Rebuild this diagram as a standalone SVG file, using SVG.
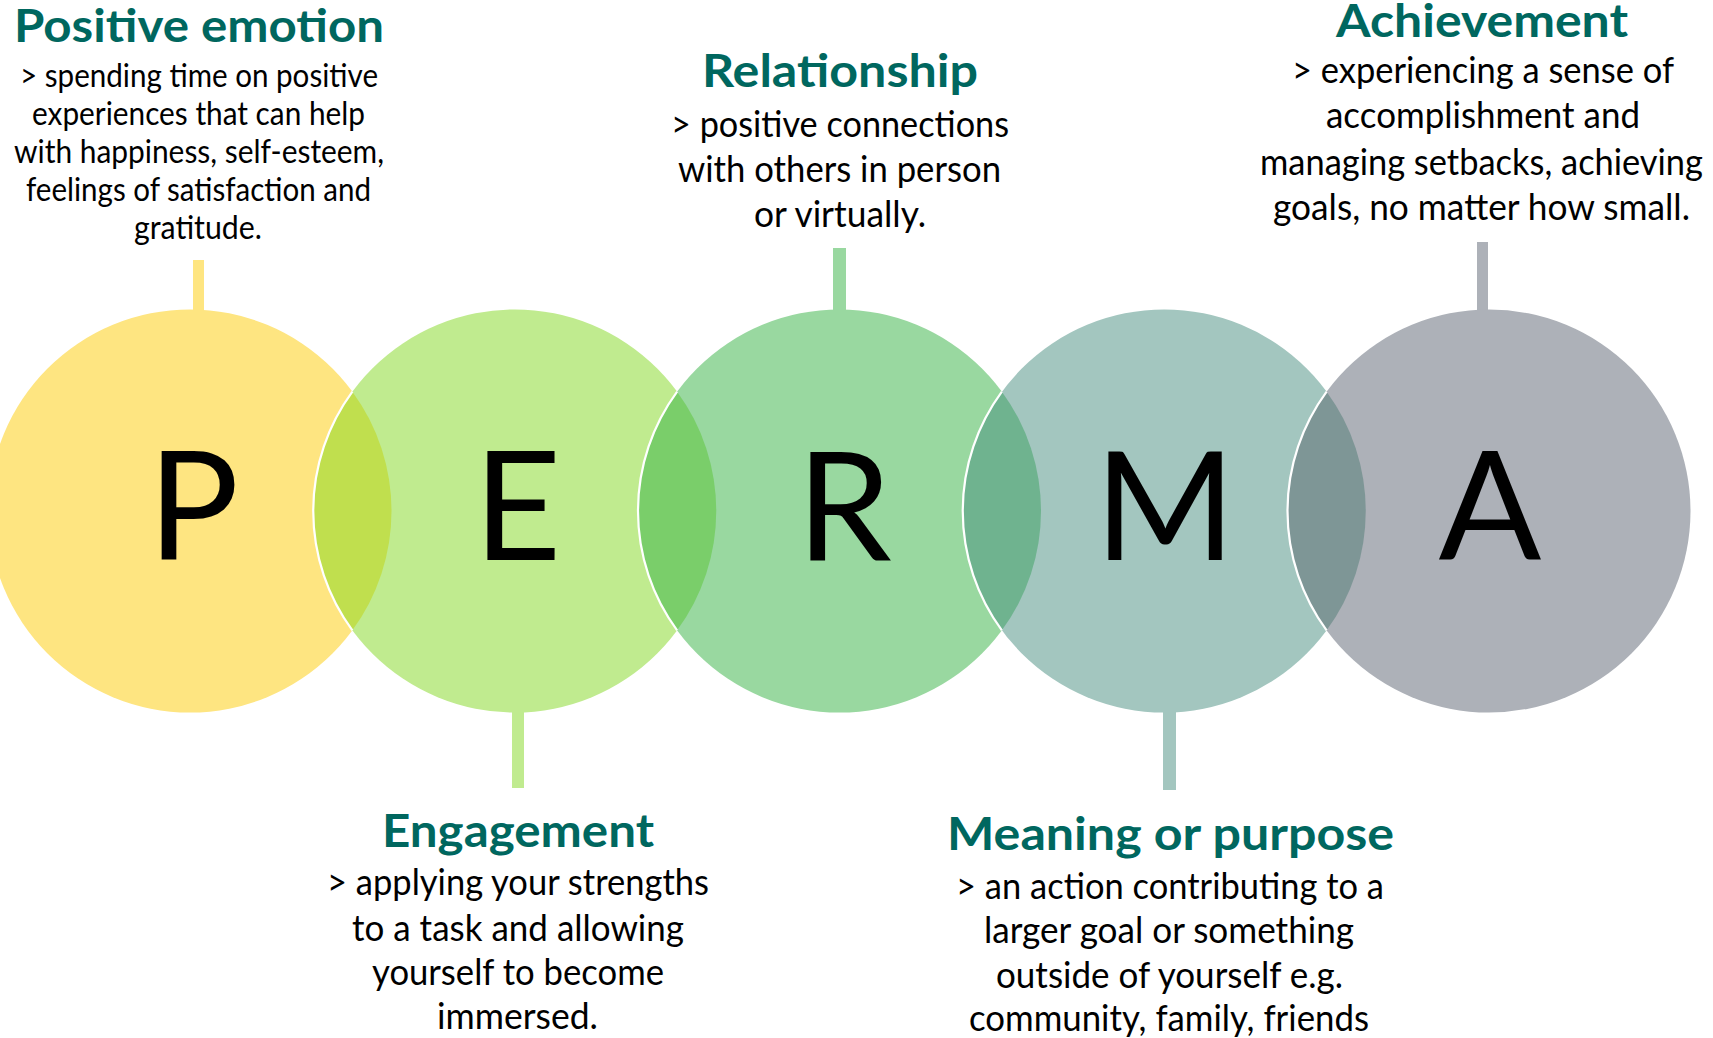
<svg xmlns="http://www.w3.org/2000/svg" width="1713" height="1038" viewBox="0 0 1713 1038">
<style>
.h{font-family:Lato,"Open Sans","Liberation Sans",sans-serif;font-weight:700;font-size:45px;fill:#00675F;text-anchor:middle}
.b{font-family:Lato,"Open Sans","Liberation Sans",sans-serif;font-size:37px;fill:#000;text-anchor:middle}
.bs{font-size:32px}
.L{font-family:Lato,"Open Sans","Liberation Sans",sans-serif;font-size:152px;fill:#000;text-anchor:middle}
.arc{fill:none;stroke:#fff;stroke-width:2.2}
</style>
<rect width="1713" height="1038" fill="#fff"/>
<g id="connectors">
<rect x="193" y="260" width="11" height="60" fill="#FEE581"/>
<rect x="512" y="700" width="12" height="88" fill="#C0EB8F"/>
<rect x="833" y="248" width="13" height="72" fill="#99D8A0"/>
<rect x="1163" y="700" width="13" height="90" fill="#A3C6BF"/>
<rect x="1477" y="242" width="11" height="78" fill="#ADB1B8"/>
</g>
<g id="node-P">
<circle cx="190" cy="511" r="201.5" fill="#FEE581"/>
<text class="L" x="193.5" y="560">P</text>
<text class="h" x="199" y="42" textLength="370" lengthAdjust="spacingAndGlyphs">Positive emotion</text>
<text class="b bs" x="199" y="87" textLength="358" lengthAdjust="spacingAndGlyphs">&gt; spending time on positive</text>
<text class="b bs" x="198.5" y="125" textLength="333" lengthAdjust="spacingAndGlyphs">experiences that can help</text>
<text class="b bs" x="199" y="163" textLength="370" lengthAdjust="spacingAndGlyphs">with happiness, self-esteem,</text>
<text class="b bs" x="198.5" y="201" textLength="345" lengthAdjust="spacingAndGlyphs">feelings of satisfaction and</text>
<text class="b bs" x="198" y="239" textLength="128" lengthAdjust="spacingAndGlyphs">gratitude.</text>
</g>
<g id="node-E">
<circle cx="514.75" cy="511" r="201.5" fill="#C0EB8F"/>
<text class="L" x="517.5" y="560">E</text>
<text class="h" x="518" y="847" textLength="272" lengthAdjust="spacingAndGlyphs">Engagement</text>
<text class="b" x="518" y="895" textLength="382" lengthAdjust="spacingAndGlyphs">&gt; applying your strengths</text>
<text class="b" x="518" y="941" textLength="332" lengthAdjust="spacingAndGlyphs">to a task and allowing</text>
<text class="b" x="518" y="985" textLength="292" lengthAdjust="spacingAndGlyphs">yourself to become</text>
<text class="b" x="517.5" y="1029" textLength="161" lengthAdjust="spacingAndGlyphs">immersed.</text>
</g>
<g id="node-R">
<circle cx="839.5" cy="511" r="201.5" fill="#99D8A0"/>
<text class="L" x="844" y="560">R</text>
<text class="h" x="840" y="87" textLength="276" lengthAdjust="spacingAndGlyphs">Relationship</text>
<text class="b" x="840" y="137" textLength="338" lengthAdjust="spacingAndGlyphs">&gt; positive connections</text>
<text class="b" x="839.5" y="182" textLength="323" lengthAdjust="spacingAndGlyphs">with others in person</text>
<text class="b" x="840" y="227" textLength="172" lengthAdjust="spacingAndGlyphs">or virtually.</text>
</g>
<g id="node-M">
<circle cx="1164.25" cy="511" r="201.5" fill="#A3C6BF"/>
<text class="L" x="1165" y="560">M</text>
<text class="h" x="1170.5" y="850" textLength="447" lengthAdjust="spacingAndGlyphs">Meaning or purpose</text>
<text class="b" x="1170" y="899" textLength="428" lengthAdjust="spacingAndGlyphs">&gt; an action contributing to a</text>
<text class="b" x="1169" y="943" textLength="370" lengthAdjust="spacingAndGlyphs">larger goal or something</text>
<text class="b" x="1169.5" y="988" textLength="347" lengthAdjust="spacingAndGlyphs">outside of yourself e.g.</text>
<text class="b" x="1169" y="1031" textLength="400" lengthAdjust="spacingAndGlyphs">community, family, friends</text>
</g>
<g id="node-A">
<circle cx="1489" cy="511" r="201.5" fill="#ADB1B8"/>
<text class="L" x="1490" y="560">A</text>
<text class="h" x="1482" y="37" textLength="292" lengthAdjust="spacingAndGlyphs">Achievement</text>
<text class="b" x="1483" y="83" textLength="382" lengthAdjust="spacingAndGlyphs">&gt; experiencing a sense of</text>
<text class="b" x="1483" y="128" textLength="314" lengthAdjust="spacingAndGlyphs">accomplishment and</text>
<text class="b" x="1481.5" y="175" textLength="443" lengthAdjust="spacingAndGlyphs">managing setbacks, achieving</text>
<text class="b" x="1481.5" y="220" textLength="417" lengthAdjust="spacingAndGlyphs">goals, no matter how small.</text>
</g>
<g id="overlaps">
<path d="M352.375 391.68 A201.5 201.5 0 0 1 352.375 630.32 A201.5 201.5 0 0 1 352.375 391.68Z" fill="#C0DF4E"/>
<path d="M677.125 391.68 A201.5 201.5 0 0 1 677.125 630.32 A201.5 201.5 0 0 1 677.125 391.68Z" fill="#7ACE6A"/>
<path d="M1001.875 391.68 A201.5 201.5 0 0 1 1001.875 630.32 A201.5 201.5 0 0 1 1001.875 391.68Z" fill="#6FB38F"/>
<path d="M1326.625 391.68 A201.5 201.5 0 0 1 1326.625 630.32 A201.5 201.5 0 0 1 1326.625 391.68Z" fill="#7E9696"/>
<path class="arc" d="M352.375 630.32 A201.5 201.5 0 0 1 352.375 391.68"/>
<path class="arc" d="M677.125 630.32 A201.5 201.5 0 0 1 677.125 391.68"/>
<path class="arc" d="M1001.875 630.32 A201.5 201.5 0 0 1 1001.875 391.68"/>
<path class="arc" d="M1326.625 630.32 A201.5 201.5 0 0 1 1326.625 391.68"/>
</g>
</svg>
